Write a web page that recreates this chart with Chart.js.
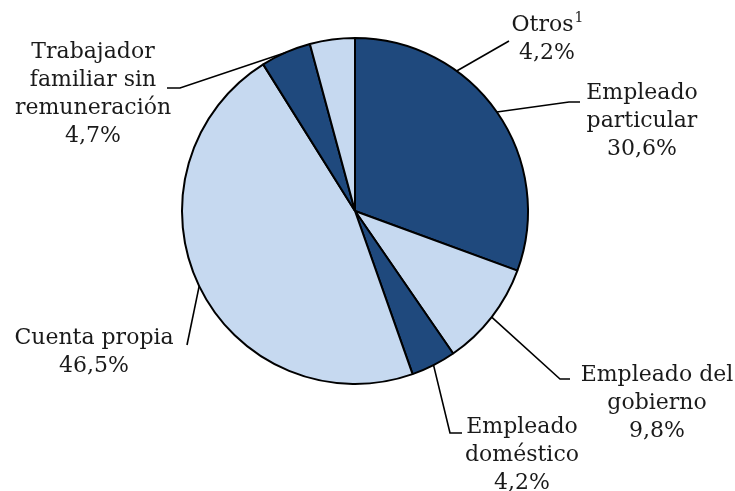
<!DOCTYPE html>
<html>
<head>
<meta charset="utf-8">
<script src="https://cdn.jsdelivr.net/npm/chart.js@4.4.0/dist/chart.umd.min.js"></script>
<style>
  html, body { margin: 0; padding: 0; background: #fff; }
  #wrap { width: 735px; height: 491px; }
</style>
</head>
<body>
<div id="wrap"><canvas id="chart" width="735" height="491"></canvas></div>
<script>
// categories and values (clockwise from 12 o'clock)
const categories = ['Empleado particular', 'Empleado del gobierno', 'Empleado doméstico', 'Cuenta propia', 'Trabajador familiar sin remuneración', 'Otros'];
const shares = [30.6, 9.8, 4.2, 46.5, 4.7, 4.2];
const labelLines = [
  ['Empleado', 'particular'],
  ['Empleado del', 'gobierno'],
  ['Empleado', 'doméstico'],
  ['Cuenta propia'],
  ['Trabajador', 'familiar sin', 'remuneración'],
  ['Otros']
];
const footnotes = ['', '', '', '', '', '1'];

const DARK = '#1f497d';
const LIGHT = '#c6d9f0';
const sliceColors = [DARK, LIGHT, DARK, LIGHT, DARK, LIGHT];

// where each label sits, offsets from the pie centre (px)
// angle: override for where the leader touches the pie (deg clockwise from top)
const labelLayout = [
  { elbow: [214, -109], end: [225, -109], text: [287, -118] },
  { elbow: [205, 168], end: [215, 168], text: [302, 164] },
  { elbow: [95, 222], end: [107, 222], text: [167, 216] },
  { elbow: [-168, 134], end: null, text: [-261, 127] },
  { elbow: [-175, -123], end: [-188, -123], text: [-262, -159] },
  { elbow: [154, -170], end: null, text: [192, -186], angle: 36 }
];

const FONT = '22px "DejaVu Serif", "Liberation Serif", serif';
const LINE_H = 28;

function fmt(v) {
  return v.toFixed(1).replace('.', ',') + '%';
}

const pieLabels = {
  id: 'pieLabels',
  afterDraw(chart) {
    const ctx = chart.ctx;
    const meta = chart.getDatasetMeta(0);
    ctx.save();
    ctx.strokeStyle = '#000';
    ctx.lineWidth = 1.6;
    ctx.fillStyle = '#1a1a1a';
    ctx.font = FONT;
    ctx.textAlign = 'center';
    ctx.textBaseline = 'middle';
    meta.data.forEach((arc, i) => {
      const p = arc.getProps(['x', 'y', 'startAngle', 'endAngle', 'outerRadius'], true);
      const lay = labelLayout[i];
      let a;
      if (lay.angle !== undefined) {
        a = lay.angle * Math.PI / 180 - Math.PI / 2;
      } else {
        a = (p.startAngle + p.endAngle) / 2;
      }
      const sx = p.x + Math.cos(a) * p.outerRadius;
      const sy = p.y + Math.sin(a) * p.outerRadius;
      ctx.beginPath();
      ctx.moveTo(sx, sy);
      ctx.lineTo(p.x + lay.elbow[0], p.y + lay.elbow[1]);
      if (lay.end) ctx.lineTo(p.x + lay.end[0], p.y + lay.end[1]);
      ctx.stroke();

      const lines = labelLines[i].concat([fmt(shares[i])]);
      const tx = p.x + lay.text[0];
      lines.forEach((t, j) => {
        const ty = p.y + lay.text[1] + j * LINE_H;
        if (j === 0 && footnotes[i]) {
          ctx.font = FONT;
          const w = ctx.measureText(t).width;
          ctx.font = '14px "DejaVu Serif", serif';
          const fw = ctx.measureText(footnotes[i]).width;
          const left = tx - (w + fw) / 2;
          ctx.textAlign = 'left';
          ctx.fillText(footnotes[i], left + w + 1, ty - 7);
          ctx.font = FONT;
          ctx.fillText(t, left, ty);
          ctx.textAlign = 'center';
        } else {
          ctx.fillText(t, tx, ty);
        }
      });
    });
    ctx.restore();
  }
};

new Chart(document.getElementById('chart').getContext('2d'), {
  type: 'pie',
  data: {
    labels: categories,
    datasets: [{
      data: shares,
      backgroundColor: sliceColors,
      borderColor: '#000',
      borderWidth: 2,
      borderAlign: 'center'
    }]
  },
  options: {
    responsive: false,
    animation: false,
    layout: { padding: { top: 37, bottom: 106, left: 181, right: 206 } },
    plugins: {
      legend: { display: false },
      tooltip: { enabled: false }
    }
  },
  plugins: [pieLabels]
});
</script>
</body>
</html>
